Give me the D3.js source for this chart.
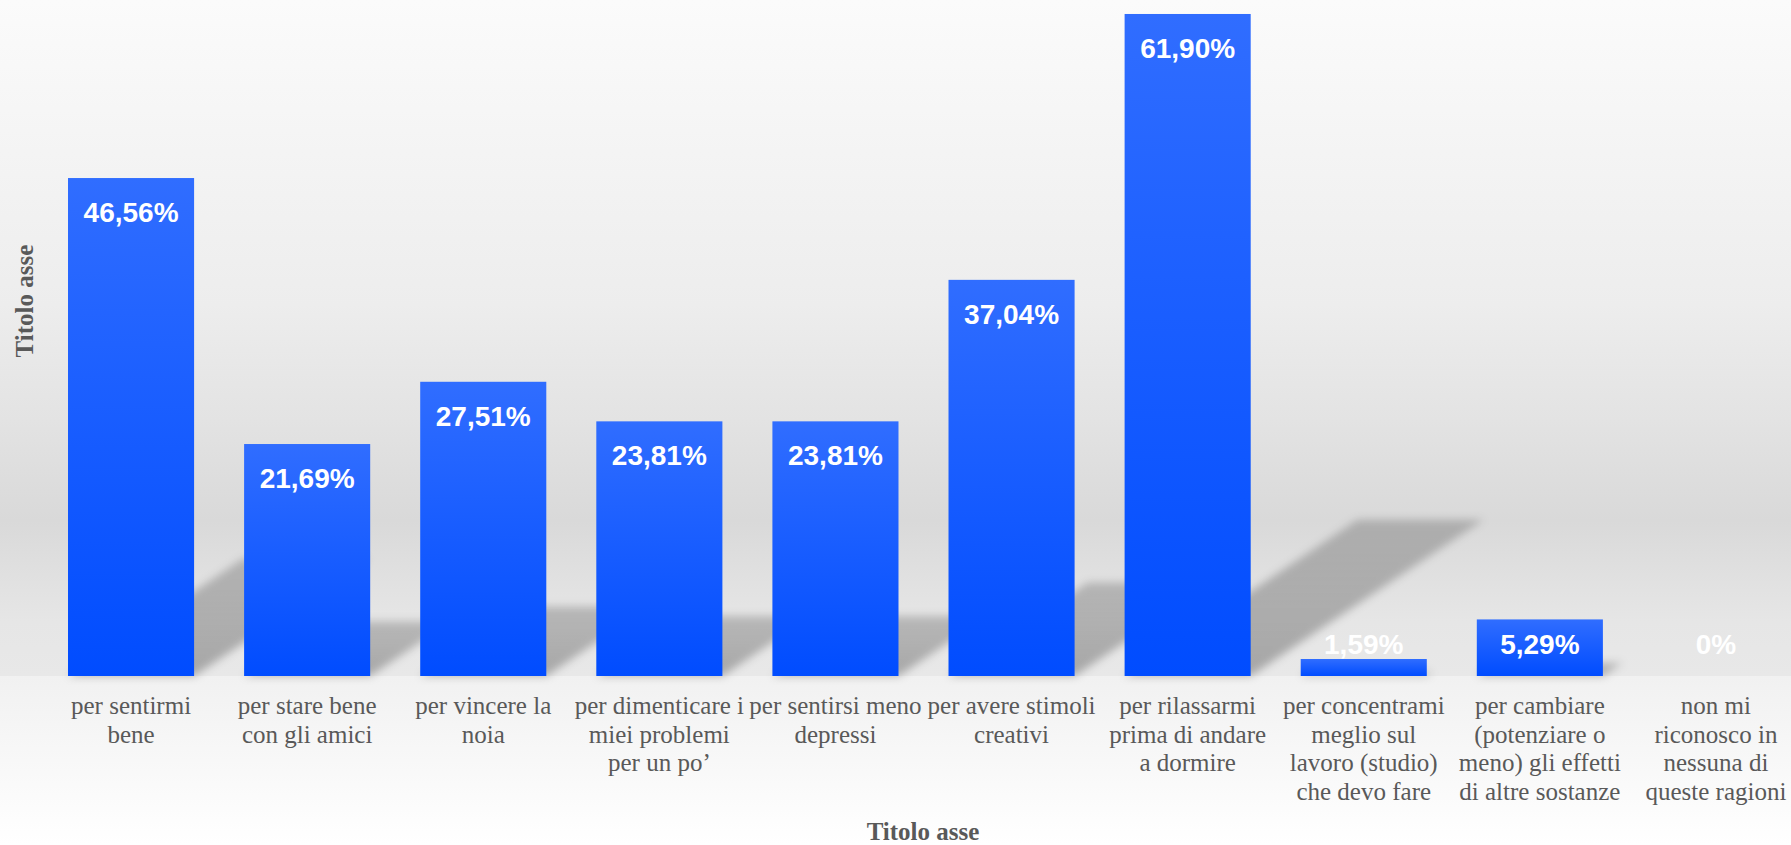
<!DOCTYPE html>
<html>
<head>
<meta charset="utf-8">
<script src="https://cdn.jsdelivr.net/npm/d3@7"></script>
<style>
    html, body { margin: 0; padding: 0; background: #ffffff; }
    svg { display: block; }
</style>
</head>
<body>
<svg id="chart"></svg>
<script>
// categories as they are wrapped under the bars
const categoryLines = [
    ["per sentirmi", "bene"],
    ["per stare bene", "con gli amici"],
    ["per vincere la", "noia"],
    ["per dimenticare i", "miei problemi", "per un po’"],
    ["per sentirsi meno", "depressi"],
    ["per avere stimoli", "creativi"],
    ["per rilassarmi", "prima di andare", "a dormire"],
    ["per concentrami", "meglio sul", "lavoro (studio)", "che devo fare"],
    ["per cambiare", "(potenziare o", "meno) gli effetti", "di altre sostanze"],
    ["non mi", "riconosco in", "nessuna di", "queste ragioni"]
];
const categories = categoryLines.map(l => l.join(" "));
const values = [46.56, 21.69, 27.51, 23.81, 23.81, 37.04, 61.90, 1.59, 5.29, 0];

const xTitle = "Titolo asse";
const yTitle = "Titolo asse";

class BarChart {
    width = 1791;
    height = 845;
    baseline = 676;

    constructor(svg, data) {
        this.svg = d3.select(svg);
        this.data = data;
    }

    initialize() {
        this.svg.attr("width", this.width).attr("height", this.height);
        const defs = this.svg.append("defs");

        // plot area background
        const bg = defs.append("linearGradient").attr("id", "plotBg")
            .attr("x1", 0).attr("y1", 0).attr("x2", 0).attr("y2", 1);
        [[0, "#fbfbfb"], [0.45, "#ededed"], [0.62, "#e3e3e3"], [0.77, "#d9d9d9"], [0.92, "#e6e6e6"], [1, "#e8e8e8"]]
            .forEach(s => bg.append("stop").attr("offset", s[0]).attr("stop-color", s[1]));

        const bg2 = defs.append("linearGradient").attr("id", "lowerBg")
            .attr("x1", 0).attr("y1", 0).attr("x2", 0).attr("y2", 1);
        bg2.append("stop").attr("offset", 0).attr("stop-color", "#f1f1f1");
        bg2.append("stop").attr("offset", 1).attr("stop-color", "#ffffff");

        const bar = defs.append("linearGradient").attr("id", "barFill")
            .attr("x1", 0).attr("y1", 0).attr("x2", 0).attr("y2", 1);
        bar.append("stop").attr("offset", 0).attr("stop-color", "#306dff");
        bar.append("stop").attr("offset", 1).attr("stop-color", "#004cff");

        const sh = defs.append("linearGradient").attr("id", "shadowFill")
            .attr("x1", 0).attr("y1", 0).attr("x2", 0).attr("y2", 1);
        sh.append("stop").attr("offset", 0).attr("stop-color", "#000").attr("stop-opacity", 0.2);
        sh.append("stop").attr("offset", 1).attr("stop-color", "#000").attr("stop-opacity", 0.28);

        defs.append("filter").attr("id", "blur")
            .attr("x", "-20%").attr("y", "-20%").attr("width", "140%").attr("height", "140%")
            .append("feGaussianBlur").attr("stdDeviation", 4);

        this.svg.append("rect")
            .attr("x", 0).attr("y", 0)
            .attr("width", this.width).attr("height", this.baseline)
            .attr("fill", "url(#plotBg)");
        this.svg.append("rect")
            .attr("x", 0).attr("y", this.baseline)
            .attr("width", this.width).attr("height", this.height - this.baseline)
            .attr("fill", "url(#lowerBg)");

        this.xScale = d3.scaleBand()
            .domain(categories)
            .range([43, 1804])
            .paddingInner(0.284)
            .paddingOuter(0.142);
        this.yScale = d3.scaleLinear()
            .domain([0, 60])
            .range([this.baseline, 34.3]);

        this.shadows = this.svg.append("g").attr("filter", "url(#blur)");
        this.bars = this.svg.append("g");
        this.labels = this.svg.append("g");
        this.xAxis = this.svg.append("g");
    }

    update() {
        const x = this.xScale, y = this.yScale, base = this.baseline;
        const bw = x.bandwidth();

        // perspective shadow thrown to the upper right
        this.shadows.selectAll("path")
            .data(this.data)
            .join("path")
            .attr("d", d => {
                const x0 = x(d.cat), h = base - y(d.value);
                const dy = h * 0.236, dx = dy * 1.49;
                return `M${x0},${base}L${x0 + bw},${base}L${x0 + bw + dx},${base - dy}L${x0 + dx},${base - dy}Z`;
            })
            .attr("fill", "url(#shadowFill)");

        this.bars.selectAll("rect")
            .data(this.data.filter(d => d.value > 0))
            .join("rect")
            .attr("x", d => x(d.cat))
            .attr("y", d => y(d.value))
            .attr("width", bw)
            .attr("height", d => base - y(d.value))
            .attr("fill", "url(#barFill)");

        this.labels.selectAll("text")
            .data(this.data)
            .join("text")
            .attr("x", d => x(d.cat) + bw / 2)
            .attr("y", d => Math.min(y(d.value) + 44, 654))
            .attr("text-anchor", "middle")
            .style("font-family", "'Liberation Sans', Arial, sans-serif")
            .style("font-weight", "bold")
            .style("font-size", "28px")
            .style("fill", "#ffffff")
            .text(d => d.value === 0 ? "0%" : d.value.toFixed(2).replace(".", ",") + "%");

        // category labels, one tspan per wrapped line
        const ticks = this.xAxis.selectAll("text")
            .data(this.data)
            .join("text")
            .attr("x", d => x(d.cat) + bw / 2)
            .attr("y", 714)
            .attr("text-anchor", "middle")
            .style("font-family", "'Liberation Serif', 'Times New Roman', serif")
            .style("font-size", "25px")
            .style("fill", "#595959");
        ticks.selectAll("tspan")
            .data(d => d.lines)
            .join("tspan")
            .attr("x", function () { return d3.select(this.parentNode).attr("x"); })
            .attr("dy", (d, i) => i === 0 ? 0 : 28.5)
            .text(d => d);

        this.svg.append("text")
            .attr("x", 923)
            .attr("y", 840)
            .attr("text-anchor", "middle")
            .style("font-family", "'Liberation Serif', 'Times New Roman', serif")
            .style("font-weight", "bold")
            .style("font-size", "25px")
            .style("fill", "#595959")
            .text(xTitle);

        this.svg.append("text")
            .attr("transform", "translate(33, 301) rotate(-90)")
            .attr("text-anchor", "middle")
            .style("font-family", "'Liberation Serif', 'Times New Roman', serif")
            .style("font-weight", "bold")
            .style("font-size", "25px")
            .style("fill", "#595959")
            .text(yTitle);
    }
}

const data = categories.map((c, i) => ({ cat: c, lines: categoryLines[i], value: values[i] }));
const chart = new BarChart("#chart", data);
chart.initialize();
chart.update();
</script>
</body>
</html>
